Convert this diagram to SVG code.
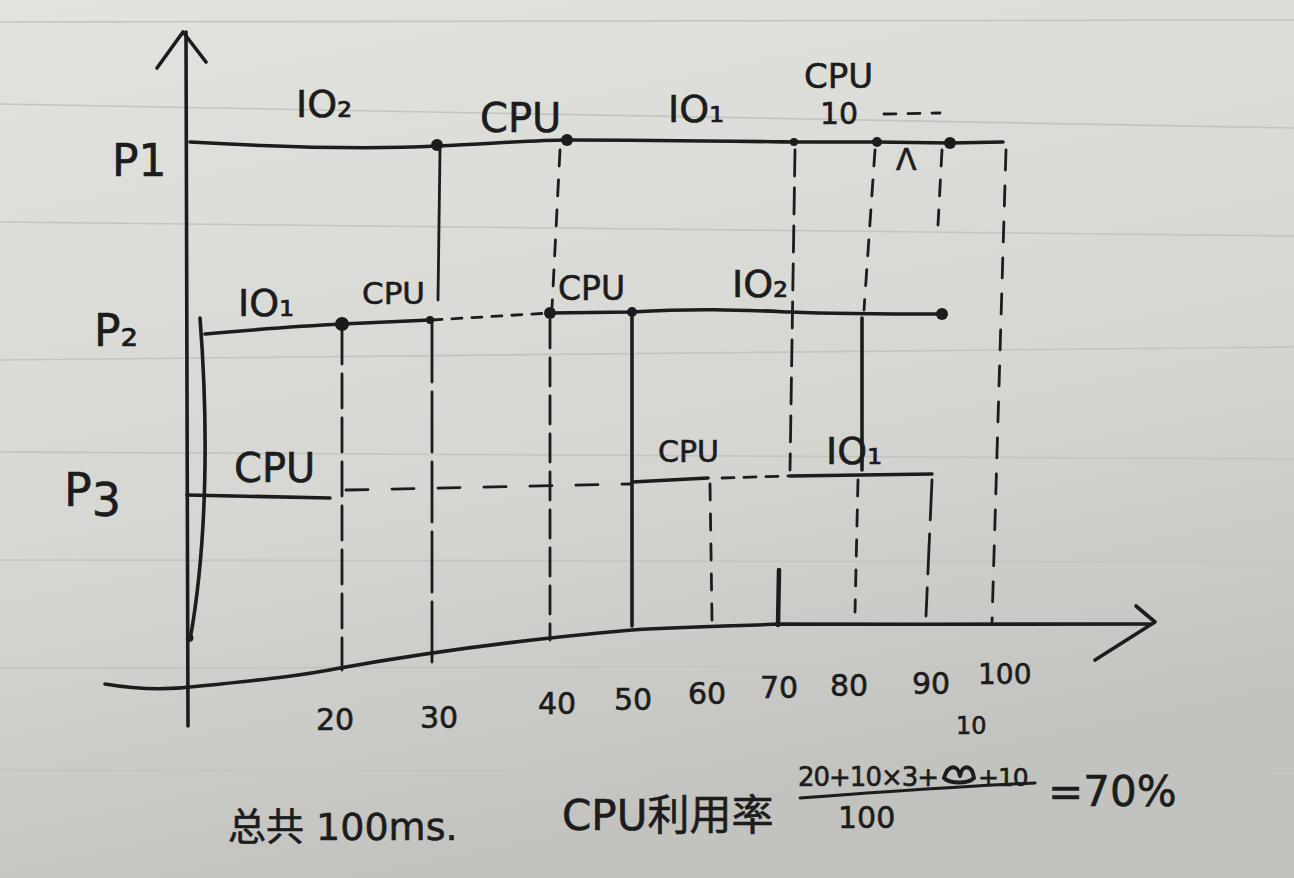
<svg xmlns="http://www.w3.org/2000/svg" width="1294" height="878" viewBox="0 0 1294 878">
<defs>
<linearGradient id="paper" x1="0" y1="0" x2="0.3" y2="1">
<stop offset="0" stop-color="#e2e2de"/>
<stop offset="0.6" stop-color="#d6d6d2"/>
<stop offset="1" stop-color="#c2c2be"/>
</linearGradient>
<style>
.ink{fill:none;stroke:#1c1c1c;stroke-width:3.6;stroke-linecap:round;stroke-linejoin:round}
.thin{fill:none;stroke:#1c1c1c;stroke-width:2.8;stroke-linecap:round}
.dash{fill:none;stroke:#1c1c1c;stroke-width:2.8;stroke-linecap:round;stroke-dasharray:16 14}
.ldash{fill:none;stroke:#1c1c1c;stroke-width:2.8;stroke-linecap:round;stroke-dasharray:34 10}
.rule{fill:none;stroke:#c4c4c0;stroke-width:1.6}
.dot{fill:#1c1c1c}
text{font-family:"DejaVu Sans","Noto Sans CJK SC",sans-serif;fill:#1c1c1c;stroke:#1c1c1c;stroke-width:0.6}
.lab{font-size:38px}
.sm{font-size:30px}
.ax{font-size:30px}
</style>
</defs>
<rect x="0" y="0" width="1294" height="878" fill="url(#paper)"/>
<g id="paper-rules">
<path class="rule" d="M0 22 L1294 20"/>
<path class="rule" d="M0 104 L1294 128"/>
<path class="rule" d="M0 222 L1294 236"/>
<path class="rule" d="M0 360 L1294 347"/>
<path class="rule" d="M0 452 L1294 459"/>
<path class="rule" d="M0 560 L1294 562"/>
<path class="rule" d="M0 668 L1294 666"/>
<path class="rule" d="M0 770 L1294 773"/>
</g>

<g id="axes">
<path class="ink" d="M186 32 C187 200 187 500 188 726"/>
<path class="ink" d="M157 68 L183 32 L206 62"/>
<path class="ink" d="M200 318 C208 420 208 540 190 640"/>
<circle class="dot" cx="190" cy="638" r="3.5"/>
<path class="ink" d="M105 684 C140 690 170 690 200 686 C260 680 300 676 340 668 C440 650 540 638 632 630 C700 626 740 626 780 624 C900 624 1050 625 1150 624"/>
<path class="ink" d="M1136 606 L1155 622 L1095 660"/>
</g>

<g id="time-labels">
<text class="ax" x="316" y="730">20</text>
<text class="ax" x="420" y="728">30</text>
<text class="ax" x="538" y="714">40</text>
<text class="ax" x="614" y="710">50</text>
<text class="ax" x="688" y="704">60</text>
<text class="ax" x="760" y="698">70</text>
<text class="ax" x="830" y="696">80</text>
<text class="ax" x="912" y="694">90</text>
<text class="sm" x="978" y="684" style="font-size:28px">100</text>
</g>

<g id="P1">
<text class="lab" x="112" y="176" style="font-size:44px">P1</text>
<path class="ink" d="M190 142 C260 146 360 150 437 146 C500 143 540 140 567 140 C650 140 720 141 795 142 L877 142 L950 143 L1003 142"/>
<circle class="dot" cx="437" cy="145" r="6"/>
<circle class="dot" cx="567" cy="140" r="6"/>
<circle class="dot" cx="794" cy="142" r="4"/>
<circle class="dot" cx="877" cy="142" r="5"/>
<circle class="dot" cx="950" cy="143" r="6"/>
<text class="lab" x="296" y="117">IO₂</text>
<text class="lab" x="480" y="132" style="font-size:40px">CPU</text>
<text class="lab" x="668" y="122">IO₁</text>
<text class="sm" x="804" y="88" style="font-size:34px">CPU</text>
<text class="sm" x="820" y="124">10</text>
<path class="dash" d="M884 114 L940 113" style="stroke-dasharray:12 12"/>
<text class="sm" x="896" y="170">Λ</text>
</g>

<g id="P2">
<text class="lab" x="94" y="346" style="font-size:44px">P₂</text>
<path class="ink" d="M205 334 C250 330 300 326 342 324 L430 320"/>
<path class="dash" d="M432 320 L550 313" style="stroke-dasharray:10 10"/>
<path class="ink" d="M550 313 L632 312 C700 308 740 310 790 312 C840 314 900 314 942 314"/>
<circle class="dot" cx="342" cy="324" r="7"/>
<circle class="dot" cx="430" cy="320" r="4"/>
<circle class="dot" cx="550" cy="313" r="6"/>
<circle class="dot" cx="632" cy="312" r="5"/>
<circle class="dot" cx="942" cy="314" r="6"/>
<text class="lab" x="238" y="316">IO₁</text>
<text class="sm" x="362" y="304" style="font-size:31px">CPU</text>
<text class="sm" x="558" y="300" style="font-size:33px">CPU</text>
<text class="lab" x="732" y="297">IO₂</text>
</g>

<g id="P3">
<text class="lab" x="64" y="506" style="font-size:46px">P<tspan dy="10">3</tspan></text>
<path class="ink" d="M187 495 L330 498"/>
<path class="dash" d="M346 490 L630 484" style="stroke-dasharray:22 24"/>
<path class="ink" d="M632 482 L708 478"/>
<path class="dash" d="M722 478 L788 476" style="stroke-dasharray:12 10"/>
<path class="ink" d="M790 476 L932 474"/>
<text class="lab" x="234" y="482" style="font-size:40px">CPU</text>
<text class="sm" x="658" y="462" style="font-size:30px">CPU</text>
<text class="lab" x="826" y="464">IO₁</text>
</g>

<g id="guides">
<path class="ldash" d="M342 330 L342 670"/>
<path class="thin" d="M440 150 L438 300"/>
<path class="ldash" d="M432 322 L432 664" style="stroke-dasharray:60 10"/>
<path class="dash" d="M560 150 L552 308"/>
<path class="dash" d="M550 320 L550 640" style="stroke-dasharray:28 10"/>
<path class="ink" d="M632 316 L632 626"/>
<path class="dash" d="M710 484 L712 620"/>
<path class="dash" d="M795 150 L790 470" style="stroke-dasharray:26 12"/>
<path class="ink" d="M779 570 L778 625" style="stroke-width:4.5"/>
<path class="dash" d="M875 150 L864 310"/>
<path class="ink" d="M862 318 L862 470"/>
<path class="dash" d="M858 480 L855 612"/>
<path class="dash" d="M942 150 L938 225"/>
<path class="ldash" d="M932 480 L926 616" style="stroke-dasharray:40 14"/>
<path class="dash" d="M1006 150 L992 622" style="stroke-dasharray:20 16"/>
</g>

<g id="summary">
<text x="228" y="840" font-size="38">总共 100ms.</text>
<text x="562" y="830" font-size="42">CPU利用率</text>
<text x="798" y="786" font-size="26" letter-spacing="-1">20+10×3+</text>
<path class="ink" d="M944 778 C948 764 958 764 960 776 C962 764 972 764 974 778 C968 784 950 784 944 778" style="stroke-width:4"/>
<text x="978" y="786" font-size="25" letter-spacing="-1">+10</text>
<text x="956" y="734" font-size="24">10</text>
<path class="ink" d="M800 798 C880 792 960 786 1035 783" style="stroke-width:3"/>
<text x="838" y="828" font-size="30">100</text>
<text x="1048" y="806" font-size="42">=70%</text>
</g>
</svg>
